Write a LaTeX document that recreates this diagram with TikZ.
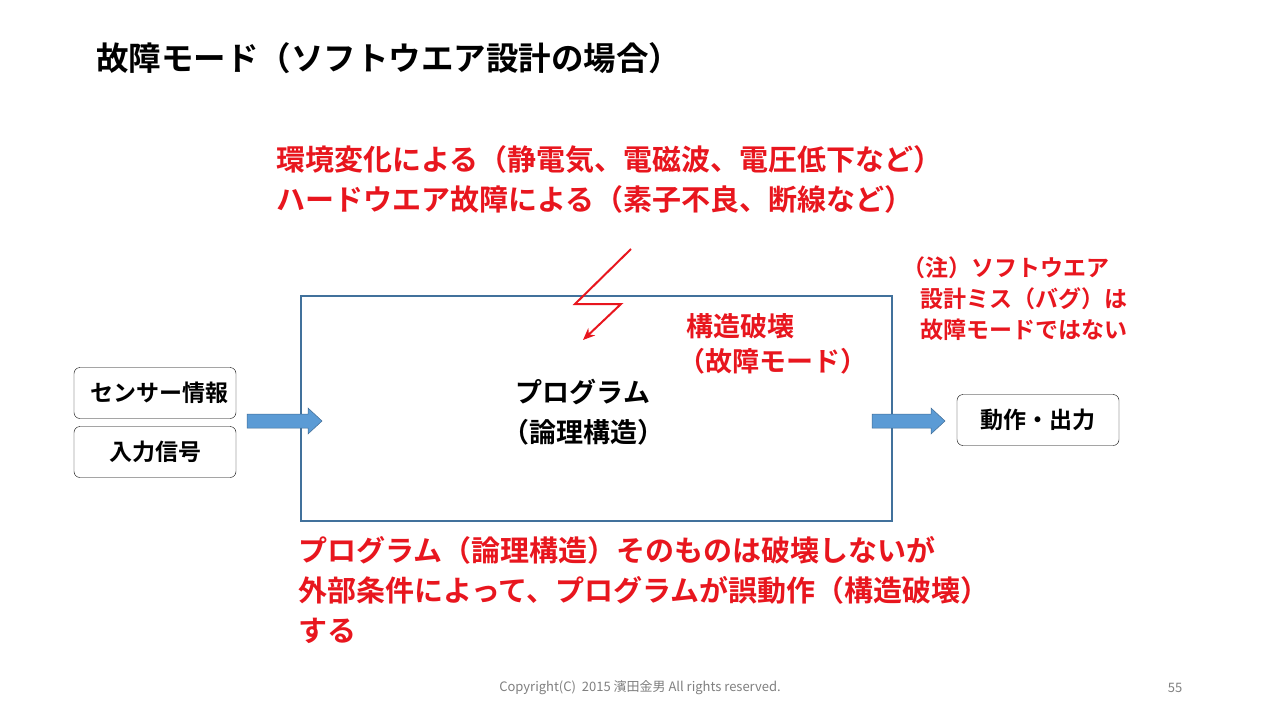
\documentclass[tikz,border=0pt]{standalone}
\usepackage{fontspec}
\setmainfont{Noto Sans CJK JP}
\newfontfamily\jb{Noto Sans CJK JP Bold}
\usetikzlibrary{arrows.meta}
\definecolor{rd}{HTML}{E8161E}
\definecolor{bl}{HTML}{41719C}
\definecolor{af}{HTML}{5B9BD5}
\tikzset{x=1pt,y=-1pt,
 redt/.style={text=rd,font=\jb\fontsize{29}{40}\selectfont,align=left,anchor=north west,inner sep=0},
 inbox/.style={draw=black,rounded corners=6pt,minimum width=162pt,minimum height=51pt,font=\jb\fontsize{23}{26}\selectfont,inner sep=0},
 blk/.style={fill=af,draw=af!70!black,line width=0.5pt}}
\begin{document}
\begin{tikzpicture}
\useasboundingbox (0,0) rectangle (1280,720);
\fill[white] (0,0) rectangle (1280,720);
\node[anchor=west,font=\jb\fontsize{32.5}{36}\selectfont,inner sep=0] (title) at (96,58) {故障モード（ソフトウエア設計の場合）};
\node[redt] (top) at (276,145) {環境変化による（静電気、電磁波、電圧低下など）\\ハードウエア故障による（素子不良、断線など）};
\node[redt,font=\jb\fontsize{23}{31}\selectfont] (note) at (902,257) {（注）ソフトウエア\\\hspace{18pt}設計ミス（バグ）は\\\hspace{18pt}故障モードではない};
\node[draw=bl,line width=1.8pt,minimum width=591pt,minimum height=225pt,anchor=north west,inner sep=0] (prog) at (300,295) {};
\node[font=\jb\fontsize{27}{40}\selectfont,align=center] (pt) at (583,412) {プログラム\\（論理構造）};
\node[redt,font=\jb\fontsize{27}{37}\selectfont,align=left] (fm) at (686,313) {構造破壊\\[-2pt]\hspace{-8pt}（故障モード）};
\coordinate (b1) at (631,249); \coordinate (b2) at (575,304); \coordinate (b3) at (621,304); \coordinate (b4) at (583,340);
\draw[rd,line width=2pt,-{Stealth[length=12pt,width=10pt]}] (b1)--(b2)--(b3)--(b4);
\node[inbox] (sens) at (155,393) {\hspace{8pt}センサー情報};
\node[inbox] (inp) at (155,452) {入力信号};
\node[inbox] (out) at (1038,420) {動作・出力};
\draw[blk] (247,414)--(308,414)--(308,408)--(322,421)--(308,434)--(308,428)--(247,428)--cycle;
\draw[blk] (872,414)--(931,414)--(931,408)--(945,421)--(931,434)--(931,428)--(872,428)--cycle;
\node[redt] (bot) at (298,536) {プログラム（論理構造）そのものは破壊しないが\\外部条件によって、プログラムが誤動作（構造破壊）\\する};
\node[text=gray,font=\fontsize{13}{14}\selectfont] (copy) at (640,688) {Copyright(C)\ \ 2015 濱田金男 All rights reserved.};
\node[text=gray,font=\fontsize{13}{14}\selectfont] (pg) at (1175,688) {55};
\end{tikzpicture}
\end{document}
